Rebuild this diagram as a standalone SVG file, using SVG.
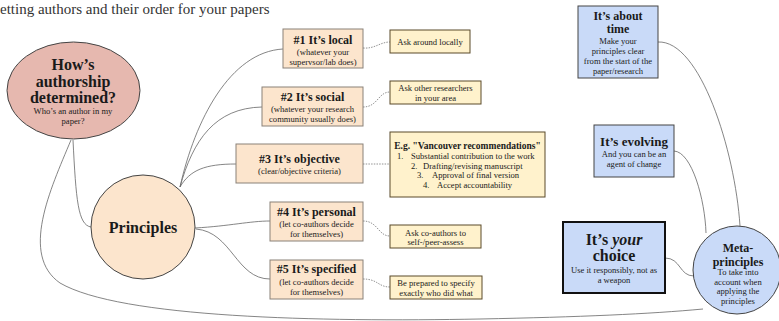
<svg xmlns="http://www.w3.org/2000/svg" width="779" height="321" viewBox="0 0 779 321">
<style>
text{font-family:"Liberation Serif","Times New Roman",serif;fill:#1a1a1a;text-anchor:middle}
.t{font-weight:bold;font-size:12px}
.s{font-size:8.6px}
.big{font-weight:bold;font-size:16px}
.pink{fill:#e6b8af;stroke:#444;stroke-width:1}
.peach{fill:#fce5cd;stroke:#8a8178;stroke-width:1}
.yel{fill:#fff2cc;stroke:#5a4a2a;stroke-width:1}
.blue{fill:#c9daf8;stroke:#444;stroke-width:1}
.c{fill:none;stroke:#666;stroke-width:0.8}
.d{fill:none;stroke:#777;stroke-width:0.8;stroke-dasharray:1.5 1.2}
</style>
<text x="0" y="14" style="font-size:15px;text-anchor:start;fill:#333">etting authors and their order for your papers</text>
<g id="connectors">
<path class="c" d="M73,140 C76,200 78,225 91,227"/>
<path class="c" d="M71,140 C50,190 20,255 60,283 C120,318 320,322 480,319 C580,317 650,314 703,309"/>
<path class="c" d="M180,187 C195,120 230,52 283,49"/>
<path class="c" d="M180,187 C193,140 215,108 262,107"/>
<path class="c" d="M180,187 C190,170 205,164 236,164"/>
<path class="c" d="M195,228 C230,226 250,221 270,221"/>
<path class="c" d="M196,229 C232,232 236,279 270,279"/>
<path class="d" d="M363,48 C375,49 380,42 390,42"/>
<path class="d" d="M363,107 C378,107 378,92 390,92"/>
<path class="d" d="M363,164 L390,164"/>
<path class="d" d="M363,221 C378,221 378,236 390,236"/>
<path class="d" d="M363,279 C378,279 378,287 390,287"/>
<path class="c" d="M658,42 C700,40 735,150 740,226"/>
<path class="c" d="M674,151 C692,152 705,200 706,233"/>
<path class="c" d="M665,258 C681,258 679,276 694,276"/>
</g>
<g id="how">
<ellipse class="pink" cx="73.5" cy="90.5" rx="66.5" ry="48.5"/>
<text class="big" x="73" y="70">How’s</text>
<text class="big" x="73" y="87">authorship</text>
<text class="big" x="73" y="103">determined?</text>
<text class="s" x="73" y="114">Who’s an author in my</text>
<text class="s" x="73" y="124">paper?</text>
</g>
<g id="principles">
<circle class="peach" cx="143" cy="227" r="52" style="stroke:#444"/>
<text class="big" x="143" y="233">Principles</text>
</g>
<g id="p1">
<rect class="peach" x="283" y="29" width="80" height="39"/>
<text class="t" x="323" y="44">#1 It’s local</text>
<text class="s" x="323" y="55">(whatever your</text>
<text class="s" x="323" y="65">supervsor/lab does)</text>
</g>
<g id="p2">
<rect class="peach" x="262" y="87" width="101" height="39"/>
<text class="t" x="312.5" y="101">#2 It’s social</text>
<text class="s" x="312.5" y="112">(whatever your research</text>
<text class="s" x="312.5" y="122">community usually does)</text>
</g>
<g id="p3">
<rect class="peach" x="236" y="144" width="127" height="39"/>
<text class="t" x="299.5" y="163">#3 It’s objective</text>
<text class="s" x="299.5" y="174">(clear/objective criteria)</text>
</g>
<g id="p4">
<rect class="peach" x="270" y="202" width="93" height="39"/>
<text class="t" x="316.5" y="216">#4 It’s personal</text>
<text class="s" x="316.5" y="226.5">(let co-authors decide</text>
<text class="s" x="316.5" y="236.5">for themselves)</text>
</g>
<g id="p5">
<rect class="peach" x="270" y="260" width="93" height="39"/>
<text class="t" x="316.5" y="273">#5 It’s specified</text>
<text class="s" x="316.5" y="284.5">(let co-authors decide</text>
<text class="s" x="316.5" y="294.5">for themselves)</text>
</g>
<g id="a1">
<rect class="yel" x="390" y="30" width="80" height="23"/>
<text class="s" x="430" y="45">Ask around locally</text>
</g>
<g id="a2">
<rect class="yel" x="390" y="81" width="91" height="23"/>
<text class="s" x="435.5" y="91">Ask other researchers</text>
<text class="s" x="435.5" y="101">in your area</text>
</g>
<g id="a3">
<rect class="yel" x="390" y="132" width="155" height="65"/>
<text x="467.5" y="149" style="font-weight:bold;font-size:9.5px">E.g. "Vancouver recommendations"</text>
<text class="s" x="397" y="159" style="text-anchor:start">1.</text>
<text class="s" x="411" y="159" style="text-anchor:start">Substantial contribution to the work</text>
<text class="s" x="411" y="168.7" style="text-anchor:start">2.</text>
<text class="s" x="423" y="168.7" style="text-anchor:start">Drafting/revising manuscript</text>
<text class="s" x="417" y="178.4" style="text-anchor:start">3.</text>
<text class="s" x="432" y="178.4" style="text-anchor:start">Approval of final version</text>
<text class="s" x="423" y="188" style="text-anchor:start">4.</text>
<text class="s" x="437" y="188" style="text-anchor:start">Accept accountability</text>
</g>
<g id="a4">
<rect class="yel" x="390" y="225" width="91" height="23"/>
<text class="s" x="435.5" y="235.5">Ask co-authors to</text>
<text class="s" x="435.5" y="245.3">self-/peer-assess</text>
</g>
<g id="a5">
<rect class="yel" x="390" y="276" width="92" height="23"/>
<text class="s" x="436" y="285.7">Be prepared to specify</text>
<text class="s" x="436" y="295.5">exactly who did what</text>
</g>
<g id="time">
<rect class="blue" x="578" y="6" width="80" height="72"/>
<text class="t" x="618" y="20">It’s about</text>
<text class="t" x="618" y="33">time</text>
<text class="s" x="618" y="44">Make your</text>
<text class="s" x="618" y="54">principles clear</text>
<text class="s" x="618" y="64">from the start of the</text>
<text class="s" x="618" y="74">paper/research</text>
</g>
<g id="evolving">
<rect class="blue" x="594" y="125" width="80" height="52"/>
<text class="t" x="634" y="146" style="font-size:13px">It’s evolving</text>
<text class="s" x="634" y="157">And you can be an</text>
<text class="s" x="634" y="166.7">agent of change</text>
</g>
<g id="choice">
<rect class="blue" x="563" y="222" width="102" height="71" style="stroke:#111;stroke-width:2"/>
<text class="big" x="614" y="245">It’s <tspan style="font-style:italic">your</tspan></text>
<text class="big" x="614" y="261">choice</text>
<text class="s" x="614" y="273">Use it responsibly, not as</text>
<text class="s" x="614" y="282.7">a weapon</text>
</g>
<g id="meta">
<circle class="blue" cx="737" cy="270" r="44"/>
<text class="t" x="738" y="252">Meta-</text>
<text class="t" x="738" y="265.5">principles</text>
<text class="s" x="738" y="275">To take into</text>
<text class="s" x="738" y="284.7">account when</text>
<text class="s" x="738" y="294.4">applying the</text>
<text class="s" x="738" y="304.1">principles</text>
</g>
</svg>
